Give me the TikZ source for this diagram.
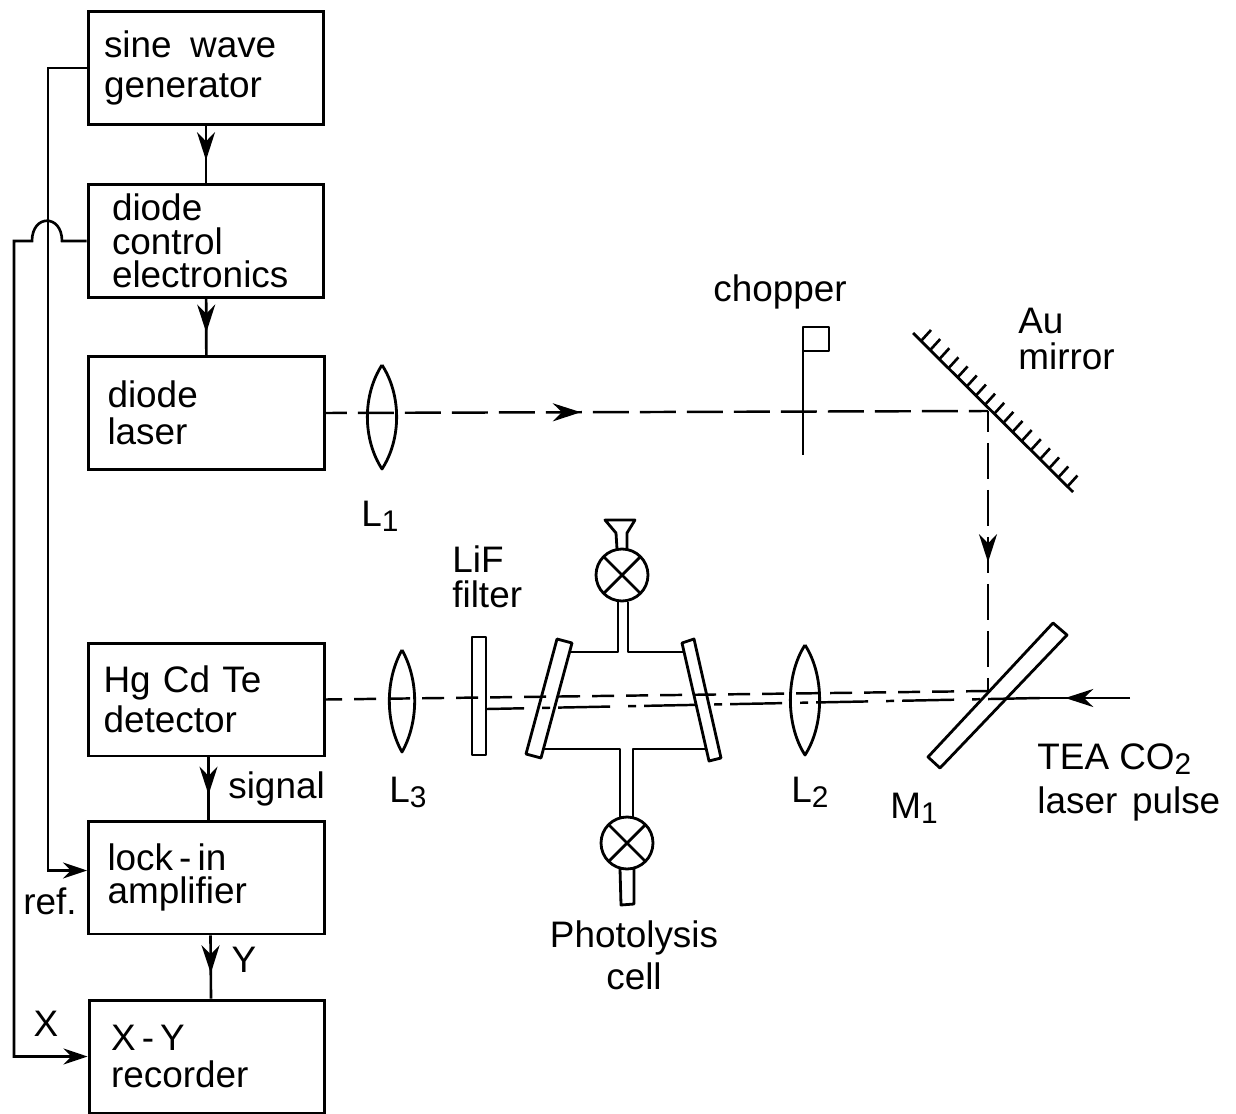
\documentclass[tikz,border=0pt]{standalone}
\usepackage{fontspec}
\setmainfont{Liberation Sans}
\usetikzlibrary{arrows.meta,decorations.markings}
\newcommand{\lowidx}[1]{\raisebox{-0.3ex}{\fontsize{17}{17}\selectfont #1}}
\tikzset{
    unit/.style={draw,line width=1.7pt,minimum height=2.26cm,text width=4.72cm-2*#1,inner xsep=#1,align=left,font=\fontsize{21}{20}\selectfont},
    word/.style={inner sep=0pt,align=left,font=\fontsize{21}{23}\selectfont},
    wire/.style={line width=1.5pt},
    tip/.style={-{Stealth[length=24*0.02cm,width=16*0.02cm]}},
    midtip/.style={decoration={markings,mark=at position #1 with {\arrow{Stealth[length=28*0.02cm,width=18*0.02cm]}}},postaction={decorate}},
    beam/.style={line width=1.4pt,dash pattern=on 0.72cm off 0.22cm,dash phase=0.3cm},
    upper/.style={line width=1.4pt,dash pattern=on 0.44cm off 0.24cm},
    pulse/.style={line width=1.4pt,dash pattern=on 1.04cm off 0.16cm on 0.16cm off 0.36cm},
    optic/.style={line width=1.6pt,line join=round},
}
\begin{document}
\begin{tikzpicture}[x=0.02cm,y=-0.02cm]
    \useasboundingbox (0,0) rectangle (1236,1114);
    % electronics
    \node[unit=0.32cm] (sine) at (206,68) {sine\hspace{0.5em}wave\\[3pt]generator};
    \node[unit=0.48cm] (control) at (206,241) {diode\\[-1pt]control\\[-1pt]electronics};
    \node[unit=0.38cm] (laser) at (206.5,413) {diode\\[1pt]laser};
    \node[unit=0.30cm] (detector) at (206.5,699.5) {Hg Cd Te\\[3pt]detector};
    \node[unit=0.38cm] (lockin) at (206.5,877.5) {lock\,-\,in\\[-1pt]amplifier};
    \node[unit=0.44cm] (recorder) at (207,1056.5) {X\,-\,Y\\[1pt]recorder};
    \draw[wire,midtip=0.6] (sine) -- (control);
    \draw[wire,midtip=0.6] (control) -- (laser);
    \draw[wire,midtip=0.6] ([xshift=0.04cm]detector.south) -- ([xshift=0.04cm]lockin.north);
    \draw[wire,midtip=0.6] ([xshift=0.08cm]lockin.south) -- ([xshift=0.08cm]recorder.north);
    \draw[wire,tip] (sine.west) -- (48,68) |- ([yshift=0.14cm]lockin.west);
    \draw[wire,tip] (control.west) -- (62,241) .. controls (62,214) and (32,214) .. (32,241) -- (14,241) |- (recorder.west);
    % beam paths
    \coordinate (turn) at (988,411);
    \coordinate (split) at (988,691);
    \coordinate (pulsein) at (1130,698);
    \coordinate (pulseend) at (487,709);
    \draw[beam,midtip=0.385] (laser.east) -- (turn);
    \draw[beam,midtip=0.54] (turn) -- (split);
    \draw[upper] (split) -- (detector.east);
    \draw[wire,midtip=0.72] (pulsein) -- (1040,698);
    \draw[pulse] (1040,698) -- (pulseend);
    % lenses
    \foreach \x/\yt/\yb/\w in {382/365/469/15, 402/650/752/13, 805/645/755/15}
        \draw[optic] (\x,\yt) .. controls (\x+\w*1.3,\yt+30) and (\x+\w*1.3,\yb-30) .. (\x,\yb)
            .. controls (\x-\w*1.3,\yb-30) and (\x-\w*1.3,\yt+30) .. (\x,\yt);
    % chopper
    \draw[optic] (803,351) -- (803,455);
    \draw[optic] (803,327) rectangle (829,351);
    % mirrors
    \draw[optic] (913,333) -- (1073,492);
    \foreach \i in {0,...,16}
        \draw[wire] (921+9.15*\i,341+9.1*\i) -- ++(10,-11);
    \draw[optic] (1053,623) -- (1067,635) -- (940,768) -- (928,757) -- cycle;
    % photolysis cell
    \draw[optic] (472,637) rectangle (486,755);
    \draw[optic] (557,639) -- (572,643) -- (541,758) -- (526,754) -- cycle;
    \draw[optic] (682,643) -- (694,639) -- (721,758) -- (709,761) -- cycle;
    \draw[optic] (571,652) -- (618,652) -- (618,602);
    \draw[optic] (683,652) -- (628,652) -- (628,602);
    \draw[optic] (543,749) -- (620,749) -- (620,817);
    \draw[optic] (705,749) -- (633,749) -- (633,817);
    \foreach \cx/\cy in {622/575, 627/843} {
        \draw[optic] (\cx,\cy) circle (0.52cm);
        \draw[optic] (\cx-18,\cy-18) -- (\cx+18,\cy+18);
        \draw[optic] (\cx+18,\cy-18) -- (\cx-18,\cy+18);
    }
    \draw[optic] (617,549) -- (616,533) -- (605,520) -- (635,520) -- (627,533) -- (627,549);
    \draw[optic] (620,869) -- (621,905) -- (634,904) -- (634,869);
    % labels
    \node[word,anchor=base] (choppertext) at (780,302) {chopper};
    \node[word,anchor=west] (autext) at (1018,339) {Au\\[-2pt]mirror};
    \node[word,anchor=base] (lone) at (380,526) {L\lowidx{1}};
    \node[word,anchor=west] (liftext) at (452,577) {LiF\\[-3pt]filter};
    \node[word,anchor=base] (lthree) at (408,802) {L\lowidx{3}};
    \node[word,anchor=base] (ltwo) at (810,802) {L\lowidx{2}};
    \node[word,anchor=base] (mone) at (914,818) {M\lowidx{1}};
    \node[word,anchor=west] (teatext) at (1037,782) {TEA CO\lowidx{2}\\[2pt]laser\hspace{0.4em}pulse};
    \node[word,anchor=base west] (signaltext) at (228,798) {signal};
    \node[word,anchor=base] (reftext) at (50,914) {ref.};
    \node[word,anchor=base] (ytext) at (244,972) {Y};
    \node[word,anchor=base] (xtext) at (46,1036) {X};
    \node[word,align=center] (celltext) at (634,955) {Photolysis\\[1pt]cell};
\end{tikzpicture}
\end{document}
